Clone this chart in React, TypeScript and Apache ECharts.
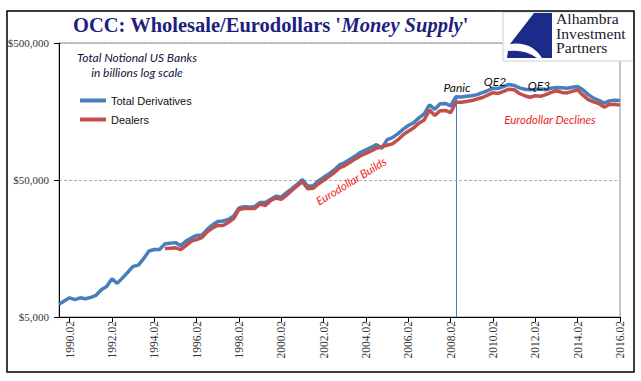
import React, { useEffect, useRef } from 'react';
import * as echarts from 'echarts';

// Quarterly categories, 1989.04 .. 2016.02
const quarterLabels: string[] = (() => {
  const out: string[] = ['1989.04'];
  for (let y = 1990; y <= 2016; y++) {
    for (let q = 1; q <= 4; q++) {
      if (y === 2016 && q > 2) break;
      out.push(`${y}.0${q}`);
    }
  }
  return out;
})();

const yTickValues = [5000, 50000, 500000];

// Total notional derivatives, US banks, $ billions
const totalDerivatives: number[] = [
  6200, 6550, 6900, 6700, 6900, 6800, 6950, 7200, 7900, 8350,
  9500, 8800, 9650, 10600, 11700, 11950, 13350, 15150, 15550, 15550,
  17100, 17300, 17450, 16600, 17900, 18900, 19700, 19800, 21800, 23500,
  24900, 25100, 25800, 27300, 31200, 31900, 31700, 32100, 34300, 34300,
  36100, 38000, 37500, 40400, 43200, 46500, 50300, 45000, 45400, 49200,
  52300, 55300, 59200, 64400, 67000, 70900, 74900, 79700, 82900, 86700,
  90500, 85300, 98500, 102000, 108500, 117000, 125000, 131000, 142000, 152000,
  177000, 164000, 180000, 181000, 174000, 203000, 202000, 204000, 206000, 210000,
  217000, 225000, 234000, 233000, 240000, 249000, 245000, 235000, 230000, 228000,
  229000, 231000, 228000, 234000, 237000, 236000, 234000, 238000, 241000, 228000,
  210000, 198000, 191000, 182000, 189000, 191000, 190000,
];

// Dealers, from 1994.04
const dealersFrom = 20;
const dealersValues: number[] = [
  15800, 15900, 16000, 15500, 16600, 17900, 18400, 19000, 20900, 22300,
  23300, 23300, 24500, 26100, 30500, 31000, 31000, 31000, 33400, 32600,
  35500, 36900, 36100, 38800, 42000, 45200, 48600, 43200, 43500, 46800,
  49700, 52900, 56600, 61200, 63700, 67300, 71300, 75300, 78300, 81500,
  85300, 87700, 89700, 91700, 98100, 106700, 113500, 120000, 130000, 137000,
  162000, 148000, 160000, 161000, 155000, 185000, 185000, 187000, 190000, 195000,
  200000, 208000, 217000, 214000, 222000, 230000, 228000, 214000, 206000, 201000,
  206000, 204000, 210000, 218000, 224000, 218000, 216000, 222000, 228000, 208000,
  193000, 186000, 181000, 170000, 178000, 178000, 176000,
];
const dealers: (number | null)[] = [
  ...new Array(dealersFrom).fill(null),
  ...dealersValues,
];

const panicQuarter = '2008.03';
const panicValue = 203000;

const BLUE = '#4a7ebb';
const RED = '#c0504d';
const NAVY = '#1e1e7e';

echarts.graphic.registerShape(
  'aipLogo',
  echarts.graphic.extendPath(
    'M27 0 L45 0 L45 45 L35 45 Q24 28 3 31 Z M0 45 L1 38 Q18 36 30 45 Z',
    {}
  )
);

const labelEvery = (i: number) => i % 8 === 2;

const option: any = {
  animation: false,
  backgroundColor: '#ffffff',
  title: {
    left: 73,
    top: 14,
    padding: 0,
    text: "{a|OCC: Wholesale/Eurodollars '}{b|Money Supply}{a|'}",
    textStyle: {
      rich: {
        a: { fontFamily: 'Liberation Serif', fontSize: 20.5, color: NAVY },
        b: { fontFamily: 'Liberation Serif', fontSize: 20.5, color: NAVY, fontStyle: 'italic' },
      },
    },
  },
  legend: {
    orient: 'vertical',
    left: 80,
    top: 95,
    padding: 0,
    itemGap: 8,
    itemWidth: 26,
    itemHeight: 4,
    icon: 'rect',
    textStyle: { fontFamily: 'Liberation Sans', fontSize: 11, color: '#111' },
    data: ['Total Derivatives', 'Dealers'],
  },
  grid: {
    left: 59,
    right: 21,
    top: 43,
    bottom: 64,
    show: true,
    borderColor: '#8c8c8c',
    borderWidth: 1,
  },
  xAxis: {
    type: 'category',
    data: quarterLabels,
    boundaryGap: false,
    axisLine: { lineStyle: { color: '#000', width: 1 } },
    axisTick: { show: true, interval: labelEvery, length: 5, lineStyle: { color: '#000' } },
    axisLabel: {
      interval: labelEvery,
      rotate: 90,
      margin: 4,
      fontFamily: 'Liberation Serif',
      fontSize: 11.5,
      color: '#333',
    },
    splitLine: { show: false },
  },
  yAxis: {
    type: 'log',
    logBase: 10,
    min: yTickValues[0],
    max: yTickValues[yTickValues.length - 1],
    interval: 1,
    axisLine: { show: true, lineStyle: { color: '#000', width: 1 } },
    axisTick: { show: true, length: 5, lineStyle: { color: '#000' } },
    axisLabel: {
      margin: 10,
      fontFamily: 'Liberation Serif',
      fontSize: 11,
      color: '#333',
      formatter: (v: number) => '$' + Number(v.toPrecision(2)).toLocaleString('en-US'),
    },
    splitLine: { show: true, lineStyle: { color: '#b0b0b0', type: [3, 2], width: 1 } },
  },
  series: [
    {
      name: 'Total Derivatives',
      type: 'line',
      data: totalDerivatives,
      symbol: 'none',
      color: BLUE,
      lineStyle: { width: 3.5, color: BLUE },
      z: 2,
      markLine: {
        silent: true,
        symbol: ['none', 'none'],
        label: { show: false },
        lineStyle: { color: BLUE, width: 1, type: 'solid' },
        data: [[{ coord: [panicQuarter, panicValue] }, { coord: [panicQuarter, yTickValues[0]] }]],
      },
    },
    {
      name: 'Dealers',
      type: 'line',
      data: dealers,
      symbol: 'none',
      color: RED,
      lineStyle: { width: 3.5, color: RED },
      z: 3,
    },
  ],
  graphic: [
    {
      type: 'text', z: 100, x: 137, y: 57,
      style: { text: 'Total Notional US Banks', fontFamily: 'Lato', fontStyle: 'italic', fontSize: 12, fill: '#14143a', align: 'center', verticalAlign: 'middle' },
    },
    {
      type: 'text', z: 100, x: 137, y: 72,
      style: { text: 'in billions log scale', fontFamily: 'Lato', fontStyle: 'italic', fontSize: 12, fill: '#14143a', align: 'center', verticalAlign: 'middle' },
    },
    {
      type: 'text', z: 100, x: 457, y: 87,
      style: { text: 'Panic', fontFamily: 'Lato', fontStyle: 'italic', fontSize: 12, fill: '#111', align: 'center', verticalAlign: 'middle' },
    },
    {
      type: 'text', z: 100, x: 495, y: 81,
      style: { text: 'QE2', fontFamily: 'Lato', fontStyle: 'italic', fontSize: 12, fill: '#111', align: 'center', verticalAlign: 'middle' },
    },
    {
      type: 'text', z: 100, x: 539, y: 85,
      style: { text: 'QE3', fontFamily: 'Lato', fontStyle: 'italic', fontSize: 12, fill: '#111', align: 'center', verticalAlign: 'middle' },
    },
    {
      type: 'text', z: 100, x: 550, y: 119,
      style: { text: 'Eurodollar Declines', fontFamily: 'Lato', fontStyle: 'italic', fontSize: 11.5, fill: '#ee1c25', align: 'center', verticalAlign: 'middle' },
    },
    {
      type: 'text', z: 100, x: 351, y: 181, rotation: (31.5 * Math.PI) / 180,
      style: { text: 'Eurodollar Builds', fontFamily: 'Lato', fontStyle: 'italic', fontSize: 11.5, fill: '#ee1c25', align: 'center', verticalAlign: 'middle' },
    },
    // logo
    {
      type: 'rect', z: 100,
      shape: { x: 503, y: 12, width: 131, height: 49 },
      style: { fill: '#ffffff', stroke: '#d0d0d0', lineWidth: 1 },
    },
    {
      type: 'aipLogo', z: 101, x: 507, y: 13, scaleX: 1, scaleY: 1,
      style: { fill: '#1c2b8a' },
    },
    {
      type: 'text', z: 101, x: 556, y: 34, scaleX: 1.12, scaleY: 1,
      style: {
        text: 'Alhambra\nInvestment\nPartners',
        fontFamily: 'Liberation Serif', fontSize: 14, lineHeight: 14.5,
        fill: '#1a1a2e', align: 'left', verticalAlign: 'middle',
      },
    },
    // outer frame
    {
      type: 'rect', z: 102,
      shape: { x: 7, y: 11, width: 627, height: 361 },
      style: { fill: 'none', stroke: '#000', lineWidth: 1.5 },
    },
  ],
};

export default function App() {
  const ref = useRef<HTMLDivElement>(null);
  useEffect(() => {
    document.body.style.margin = '0';
    const chart = echarts.init(ref.current as HTMLDivElement, null, { renderer: 'svg' });
    chart.setOption(option);
    return () => {
      chart.dispose();
    };
  }, []);
  return <div ref={ref} style={{ width: 641, height: 381, background: '#fff' }} />;
}
